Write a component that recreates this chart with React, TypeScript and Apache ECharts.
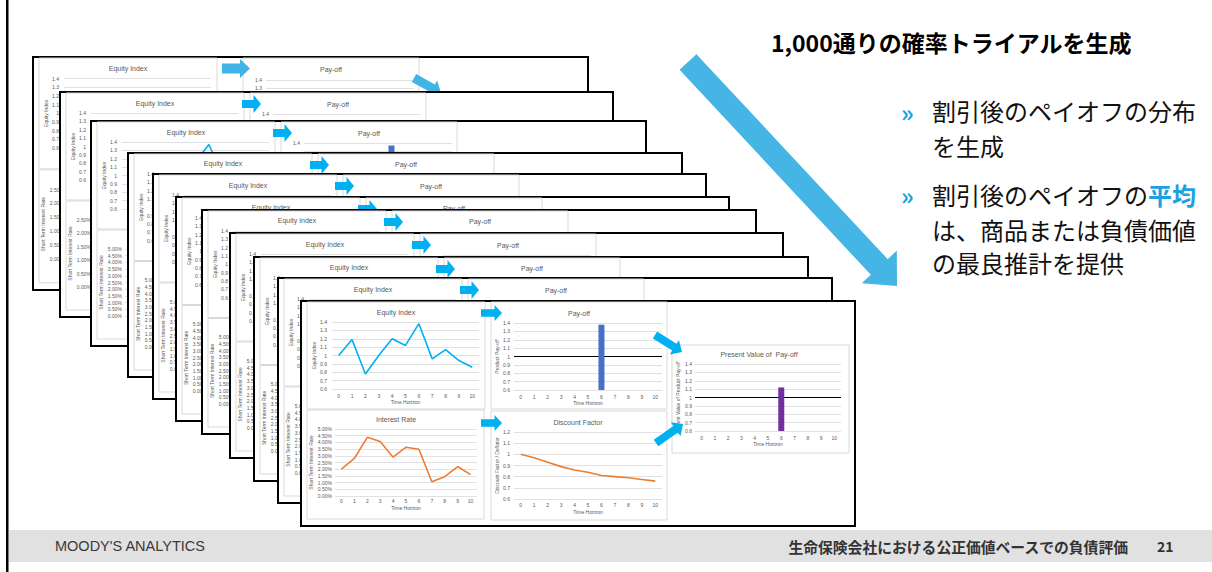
import React, { useEffect, useRef } from "react";
import * as echarts from "echarts";

// ---------- data ----------
const timeHorizon = ["0", "1", "2", "3", "4", "5", "6", "7", "8", "9", "10"];
const equityIndex = [1.0, 1.19, 0.78, 1.0, 1.2, 1.12, 1.38, 0.96, 1.07, 0.94, 0.86];
const shortTermRate = [2.0, 2.8, 4.38, 4.06, 2.9, 3.64, 3.49, 1.06, 1.44, 2.2, 1.6]; // %
const productPayoff = [null, null, null, null, null, null, 1.38, null, null, null, null];
const discountFactor = [1.0, 0.97, 0.93, 0.89, 0.86, 0.84, 0.81, 0.8, 0.79, 0.775, 0.76];
const presentValuePayoff = [null, null, null, null, null, null, 1.12, null, null, null, null];
// visible fragments of an earlier trial sheet (third from the back)
const trial3Equity = [null, null, null, null, null, 1.16, 1.37, 1.02, null, null, null];
const trial3Payoff = [null, null, null, null, null, null, 1.37, null, null, null, null];

const equityAxis = [0.6, 1.4, 0.1]; // min, max, interval
const payoffAxis = [0.6, 1.4, 0.1];
const discountAxis = [0.6, 1.2, 0.1];
const rateAxisMaxBySheet = [2.5, 2.5, 5, 5, 5, 5, 5, 5, 5, 5, 5];
const rateAxisInterval = 0.5;

const panelTitles = ["Equity Index", "Interest Rate", "Pay-off", "Discount Factor", "Present Value of  Pay-off"];
const yAxisNames = ["Equity Index", "Short Term Interest Rate", "Product Pay-off", "Discount Factor / Deflator", "Present Value of Product Pay-off"];
const xAxisName = "Time Horizon";

const headline = "1,000通りの確率トライアルを生成";
const bulletLines = ["割引後のペイオフの分布", "を生成", "割引後のペイオフの", "平均", "は、商品または負債価値", "の最良推計を提供"];
const footerLeft = "MOODY'S ANALYTICS";
const footerRight = "生命保険会社における公正価値ベースでの負債評価";
const pageNumber = "21";

// ---------- layout ----------
const SHEETS: number[][] = [
  [33, 57, 555, 233],
  [60, 92, 553, 225],
  [91, 121, 555, 225],
  [128, 153, 554, 224],
  [153, 174, 553, 225],
  [176, 197, 553, 224],
  [202, 210, 554, 224],
  [230, 233, 553, 225],
  [254, 257, 554, 224],
  [278, 278, 554, 225],
  [301, 301, 554, 225],
];
const PAYOFF_SHIFT = [20, 0, 0, 0, 0, 0, 0, 0, 0, 0, 0];

const P = {
  eq: { box: [6, 1, 178, 107], grid: [31, 21, 147, 67], title: [95, 11], yGap: 13.5, yLM: 5, xLM: 4.5, xNG: 10.5 },
  ir: { box: [6, 109, 177, 109], grid: [34, 128, 142, 67], title: [95, 118], yGap: 16.5, yLM: 3, xLM: 2.5, xNG: 9.5 },
  po: { box: [190, 1, 176, 107], grid: [213, 22, 148, 67], title: [278, 12], yGap: 12.5, yLM: 4, xLM: 4.5, xNG: 10.5 },
  df: { box: [190, 110, 176, 109], grid: [213, 131, 148, 67], title: [277, 121], yGap: 12.5, yLM: 4, xLM: 3.5, xNG: 10.5 },
  pv: { box: [371, 44, 177, 108], grid: [394, 63, 146, 67], title: [458, 53], yGap: 14.5, yLM: 3, xLM: 4.5, xNG: 10.5 },
};

const SMALL_FONT = "'Liberation Sans', Arial, sans-serif";
const JP_FONT = "'Noto Sans CJK JP', 'Noto Sans', sans-serif";
const ARROW_BLUE = "#00B0F0";
const BIG_ARROW = "#45B5E6";

function blockArrow(tx: number, ty: number, hx: number, hy: number, sh: number, hh: number, hl: number) {
  const dx = hx - tx, dy = hy - ty;
  const len = Math.hypot(dx, dy);
  const ux = dx / len, uy = dy / len;
  const nx = -uy, ny = ux;
  const bx = hx - ux * hl, by = hy - uy * hl;
  return [
    [tx + nx * sh, ty + ny * sh],
    [bx + nx * sh, by + ny * sh],
    [bx + nx * hh, by + ny * hh],
    [hx, hy],
    [bx - nx * hh, by - ny * hh],
    [bx - nx * sh, by - ny * sh],
    [tx - nx * sh, ty - ny * sh],
  ];
}

function buildOption() {
  const grid: any[] = [];
  const xAxis: any[] = [];
  const yAxis: any[] = [];
  const series: any[] = [];
  const elements: any[] = [];
  const axisText = { fontSize: 5, color: "#595959", fontFamily: SMALL_FONT };

  const lineSeries = (data: any[], color: string) => ({
    type: "line", data, symbol: "none", silent: true,
    lineStyle: { color, width: 1.6 }, itemStyle: { color },
  });
  const barSeries = (data: any[], color: string, markZ: number | null) => {
    const s: any = { type: "bar", data, barWidth: 6, silent: true, itemStyle: { color } };
    if (markZ !== null) {
      s.markLine = {
        z: markZ, silent: true, symbol: ["none", "none"], label: { show: false },
        lineStyle: { color: "#000", width: 1.2, type: "solid" }, data: [{ yAxis: 1 }],
      };
    }
    return s;
  };

  function addPanel(o: any) {
    const gi = grid.length;
    const [l, t, w, h] = o.cfg.grid;
    grid.push({ left: o.ox + l, top: o.oy + t * o.sy, width: w, height: h * o.sy, show: false, z: o.z });
    xAxis.push({
      type: "category", gridIndex: gi, data: timeHorizon, z: o.z + 2,
      axisLine: { show: false }, axisTick: { show: false }, splitLine: { show: false },
      axisLabel: { show: o.showX, interval: 0, margin: o.cfg.xLM, ...axisText },
      name: o.showX ? xAxisName : "", nameLocation: "middle", nameGap: o.cfg.xNG, nameTextStyle: axisText,
    });
    const yLabel: any = { margin: o.cfg.yLM, ...axisText };
    if (o.fmt) yLabel.formatter = o.fmt;
    yAxis.push({
      type: "value", gridIndex: gi, min: o.range[0], max: o.range[1], interval: o.range[2], z: o.z + 2,
      axisLine: { show: false }, axisTick: { show: false },
      splitLine: { lineStyle: { color: "#D9D9D9", width: 0.8 } },
      axisLabel: yLabel,
      name: o.yName, nameLocation: "middle", nameGap: o.cfg.yGap, nameTextStyle: axisText,
    });
    (o.series || []).forEach((s: any) => series.push({ ...s, xAxisIndex: gi, yAxisIndex: gi, z: o.z + 3 }));
  }

  const rateFmt = (v: number) => v.toFixed(2) + "%";

  SHEETS.forEach((sh, k) => {
    const [ox, oy, w, h] = sh;
    const sy = h / 225;
    const z = 10 + k * 10;
    const front = k === SHEETS.length - 1;
    const dx = PAYOFF_SHIFT[k];
    const nextTop = front ? 9999 : SHEETS[k + 1][1];

    // sheet
    elements.push({ type: "rect", z, silent: true, shape: { x: ox, y: oy, width: w, height: h },
      style: { fill: "#fff", stroke: "#000", lineWidth: 2 } });

    // panel boxes
    const boxes: [number[], number][] = [[P.eq.box, 0], [P.ir.box, 0], [P.po.box, dx], [P.df.box, dx], [P.pv.box, dx]];
    boxes.forEach(([b, sx]) => {
      elements.push({ type: "rect", z: z + 1, silent: true,
        shape: { x: ox + b[0] + sx, y: oy + b[1] * sy, width: b[2], height: b[3] * sy },
        style: { fill: "none", stroke: "#D9D9D9", lineWidth: 1 } });
    });

    const title = (t: string, pos: number[], sx: number) => {
      elements.push({ type: "text", z: z + 4, silent: true, x: ox + pos[0] + sx, y: oy + pos[1] * sy,
        style: { text: t, fill: "#595959", fontSize: 7, fontFamily: SMALL_FONT,
          align: "center", verticalAlign: "middle", textAlign: "center", textVerticalAlign: "middle" } });
    };

    // on a sheet that lies behind another, the pay-off tick labels are only shown above the next sheet
    const poGrid = P.po.grid;
    const poFmt = front ? undefined : (v: number) => {
      const yc = oy + (poGrid[1] + ((payoffAxis[1] - v) / (payoffAxis[1] - payoffAxis[0])) * poGrid[3]) * sy;
      return yc + 2 < nextTop ? String(Number(v.toFixed(2))) : "";
    };

    addPanel({ ox, oy, sy, z, cfg: P.eq, range: equityAxis, yName: yAxisNames[0], showX: front,
      series: front ? [lineSeries(equityIndex, "#00B0F0")] : k === 2 ? [lineSeries(trial3Equity, "#00B0F0")] : [] });
    addPanel({ ox, oy, sy, z, cfg: P.ir, range: [0, rateAxisMaxBySheet[k], rateAxisInterval], fmt: rateFmt,
      yName: yAxisNames[1], showX: front, series: front ? [lineSeries(shortTermRate, "#ED7D31")] : [] });
    addPanel({ ox: ox + dx, oy, sy, z, cfg: P.po, range: payoffAxis, yName: yAxisNames[2], showX: front, fmt: poFmt,
      series: front ? [barSeries(productPayoff, "#4472C4", z + 3)] : k === 2 ? [barSeries(trial3Payoff, "#4472C4", null)] : [] });
    title(panelTitles[0], P.eq.title, 0);
    title(panelTitles[2], P.po.title, dx);

    if (front) {
      addPanel({ ox, oy, sy, z, cfg: P.df, range: discountAxis, yName: yAxisNames[3], showX: true,
        series: [lineSeries(discountFactor, "#ED7D31")] });
      addPanel({ ox, oy, sy, z, cfg: P.pv, range: payoffAxis, yName: yAxisNames[4], showX: true,
        series: [barSeries(presentValuePayoff, "#7030A0", z + 3)] });
      title(panelTitles[1], P.ir.title, 0);
      title(panelTitles[3], P.df.title, 0);
      title(panelTitles[4], P.pv.title, 0);
      const arrows = [
        blockArrow(ox + 180, oy + 12, ox + 201, oy + 12, 3.8, 8, 7.5),
        blockArrow(ox + 180, oy + 122, ox + 201, oy + 122, 3.8, 8, 7.5),
        blockArrow(ox + 354, oy + 34, ox + 381, oy + 51, 4, 8.5, 9),
        blockArrow(ox + 355, oy + 142, ox + 382, oy + 123, 4, 8.5, 9),
      ];
      arrows.forEach((pts) => elements.push({ type: "polygon", z: z + 5, silent: true, shape: { points: pts }, style: { fill: ARROW_BLUE } }));
    } else if (k === 0) {
      elements.push({ type: "polygon", z: z + 5, silent: true,
        shape: { points: blockArrow(ox + 189, oy + 11.5, ox + 217, oy + 11.5, 5, 9.5, 10) }, style: { fill: "#41B4E6" } });
      elements.push({ type: "polygon", z: z + 5, silent: true,
        shape: { points: blockArrow(ox + 381, oy + 21, ox + 408, oy + 36, 4.5, 9, 9.5) }, style: { fill: "#41B4E6" } });
    } else {
      elements.push({ type: "polygon", z: z + 5, silent: true,
        shape: { points: blockArrow(ox + 182, oy + 12, ox + 201, oy + 12, 4, 9, 7.5) }, style: { fill: ARROW_BLUE } });
    }
  });

  // page furniture
  elements.push({ type: "rect", z: 1, silent: true, shape: { x: 9, y: 530, width: 1203, height: 32 }, style: { fill: "#E1E1E1" } });
  elements.push({ type: "rect", z: 2, silent: true, shape: { x: 6, y: 0, width: 2.5, height: 572 }, style: { fill: "#000" } });
  elements.push({ type: "text", z: 3, silent: true, x: 55, y: 546,
    style: { text: footerLeft, fill: "#3A3A3A", fontSize: 14.5, fontFamily: SMALL_FONT,
      align: "left", verticalAlign: "middle", textAlign: "left", textVerticalAlign: "middle" } });
  elements.push({ type: "text", z: 3, silent: true, x: 1128, y: 546,
    style: { text: footerRight, fill: "#333", fontSize: 14.8, fontWeight: "bold", fontFamily: JP_FONT,
      align: "right", verticalAlign: "middle", textAlign: "right", textVerticalAlign: "middle" } });
  elements.push({ type: "text", z: 3, silent: true, x: 1157, y: 546,
    style: { text: pageNumber, fill: "#333", fontSize: 14, fontWeight: "bold", fontFamily: JP_FONT,
      align: "left", verticalAlign: "middle", textAlign: "left", textVerticalAlign: "middle" } });

  // big arrow
  elements.push({ type: "polygon", z: 300, silent: true,
    shape: { points: blockArrow(688, 62, 897, 286, 11.5, 24, 26) }, style: { fill: BIG_ARROW } });

  const txt = (t: string, x: number, y: number, extra: any) => ({
    type: "text", z: 301, silent: true, x, y,
    style: { text: t, fill: "#111", fontSize: 24, fontFamily: JP_FONT, align: "left", verticalAlign: "middle",
      textAlign: "left", textVerticalAlign: "middle", ...extra },
  });
  elements.push(txt(headline, 771, 42, { fontSize: 23, fontWeight: "bold", fill: "#000" }));
  elements.push(txt("»", 901, 111, { fontSize: 24, fontWeight: "bold", fill: "#1BA1E2" }));
  elements.push(txt("»", 901, 194, { fontSize: 24, fontWeight: "bold", fill: "#1BA1E2" }));
  elements.push(txt(bulletLines[0], 932, 110, {}));
  elements.push(txt(bulletLines[1], 932, 145, {}));
  elements.push(txt(bulletLines[2], 932, 194, {}));
  elements.push(txt(bulletLines[3], 1148, 194, { fill: "#1BA1E2", fontWeight: "bold" }));
  elements.push(txt(bulletLines[4], 932, 229, {}));
  elements.push(txt(bulletLines[5], 932, 262, {}));

  return {
    animation: false,
    backgroundColor: "#fff",
    grid, xAxis, yAxis, series,
    graphic: { elements },
  };
}

export default function App() {
  const ref = useRef<HTMLDivElement>(null);
  useEffect(() => {
    const chart = echarts.init(ref.current as HTMLDivElement, null, { renderer: "svg" });
    chart.setOption(buildOption() as any);
    return () => chart.dispose();
  }, []);
  return (
    <div
      ref={ref}
      style={{ position: "absolute", left: 0, top: 0, width: 1212, height: 572, background: "#fff" }}
    />
  );
}
